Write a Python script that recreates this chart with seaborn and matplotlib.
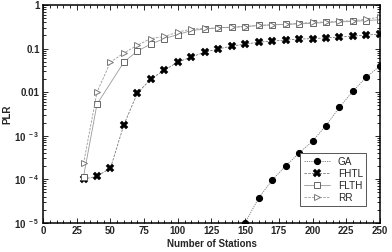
import numpy as np
import pandas as pd
import matplotlib
matplotlib.use("Agg")
import matplotlib.pyplot as plt
import seaborn as sns
from matplotlib.ticker import FixedLocator, FixedFormatter, LogLocator, MultipleLocator, NullFormatter

# values
ga_x = [150, 160, 170, 180, 190, 200, 210, 220, 230, 240, 250]
ga_y = [1.0e-5, 3.7e-5, 9.5e-5, 2.0e-4, 4.0e-4, 7.5e-4, 1.7e-3, 4.5e-3, 0.0105, 0.022, 0.040]

fhtl_x = list(range(30, 251, 10))
fhtl_y = [1.0e-4, 1.17e-4, 1.8e-4, 1.8e-3, 0.0095, 0.020, 0.032, 0.049, 0.064, 0.083,
          0.098, 0.114, 0.127, 0.140, 0.149, 0.157, 0.165, 0.170, 0.176, 0.184,
          0.194, 0.204, 0.215]

flth_x = [30, 40] + list(range(60, 251, 10))
flth_y = [1.15e-4, 0.0053, 0.049, 0.088, 0.127, 0.17, 0.21, 0.26, 0.28, 0.30, 0.31,
          0.32, 0.34, 0.35, 0.36, 0.37, 0.38, 0.40, 0.41, 0.42, 0.44, 0.46]

rr_x = list(range(30, 251, 10))
rr_y = [2.3e-4, 0.010, 0.049, 0.079, 0.12, 0.17, 0.19, 0.24, 0.28, 0.29, 0.30, 0.31,
        0.32, 0.34, 0.35, 0.36, 0.38, 0.40, 0.41, 0.42, 0.44, 0.47, 0.53]

x_ticks = [0, 25, 50, 75, 100, 125, 150, 175, 200, 225, 250]
y_ticks = [1e-5, 1e-4, 1e-3, 1e-2, 1e-1, 1]
y_labels = [r"$\mathbf{10^{\ -5}}$", r"$\mathbf{10^{\ -4}}$", r"$\mathbf{10^{\ -3}}$", "0.01", "0.1", "1"]

sns.set_style("ticks")
plt.rcParams["font.family"] = ["Liberation Sans", "DejaVu Sans"]
plt.rcParams["mathtext.fontset"] = "custom"
plt.rcParams["mathtext.bf"] = "Liberation Sans:bold"

fig = plt.figure(figsize=(3.92, 2.52), dpi=100)
ax = fig.add_axes([0.110, 0.116, 0.859, 0.864])

gray = "#7a7a7a"
series = [
    ("GA", ga_x, ga_y, dict(marker="o", markersize=4.4, markerfacecolor="black",
                            markeredgecolor="black", color=gray, linestyle=(0, (1.5, 1.2)))),
    ("FHTL", fhtl_x, fhtl_y, dict(marker="X", markersize=5.4, markerfacecolor="black",
                                  markeredgecolor="black", markeredgewidth=0.3,
                                  color=gray, linestyle=(0, (3, 1.5)))),
    ("FLTH", flth_x, flth_y, dict(marker="s", markersize=5.0, markerfacecolor="white",
                                  markeredgecolor="#666666", markeredgewidth=0.7,
                                  color="#999999", linestyle="-")),
    ("RR", rr_x, rr_y, dict(marker=">", markersize=5.0, markerfacecolor="white",
                            markeredgecolor="#777777", markeredgewidth=0.7,
                            color="#999999", linestyle=(0, (3, 1.5)))),
]

for name, xs, ys, kw in series:
    df = pd.DataFrame({"x": xs, "y": ys})
    sns.lineplot(data=df, x="x", y="y", ax=ax, label=name, linewidth=0.6, **kw)

ax.set_yscale("log")
ax.set_xlim(0, 250)
ax.set_ylim(1e-5, 1)

ax.xaxis.set_major_locator(FixedLocator(x_ticks))
ax.xaxis.set_minor_locator(MultipleLocator(5))
ax.yaxis.set_major_locator(FixedLocator(y_ticks))
ax.yaxis.set_major_formatter(FixedFormatter(y_labels))
ax.yaxis.set_minor_locator(LogLocator(base=10, subs=np.arange(2, 10)))
ax.yaxis.set_minor_formatter(NullFormatter())

ax.tick_params(which="both", direction="in", top=True, right=True, width=0.7)
ax.tick_params(which="major", length=3.5, labelsize=7, pad=2.5)
ax.tick_params(which="minor", length=2)
for lab in ax.get_xticklabels() + ax.get_yticklabels():
    lab.set_fontweight("bold")

for sp in ax.spines.values():
    sp.set_linewidth(1.1)
    sp.set_color("black")

ax.set_xlabel("Number of Stations", fontsize=7, fontweight="bold", labelpad=2)
ax.set_ylabel("PLR", fontsize=7, fontweight="bold", labelpad=1)

leg = ax.legend(loc="lower right", bbox_to_anchor=(0.975, 0.054), fontsize=7.2,
                frameon=True, fancybox=False, edgecolor="#555555", framealpha=1,
                handlelength=2.6, borderpad=0.35, labelspacing=0.2, handletextpad=0.8)
leg.get_frame().set_linewidth(0.7)

fig.savefig("out.png", dpi=100)
